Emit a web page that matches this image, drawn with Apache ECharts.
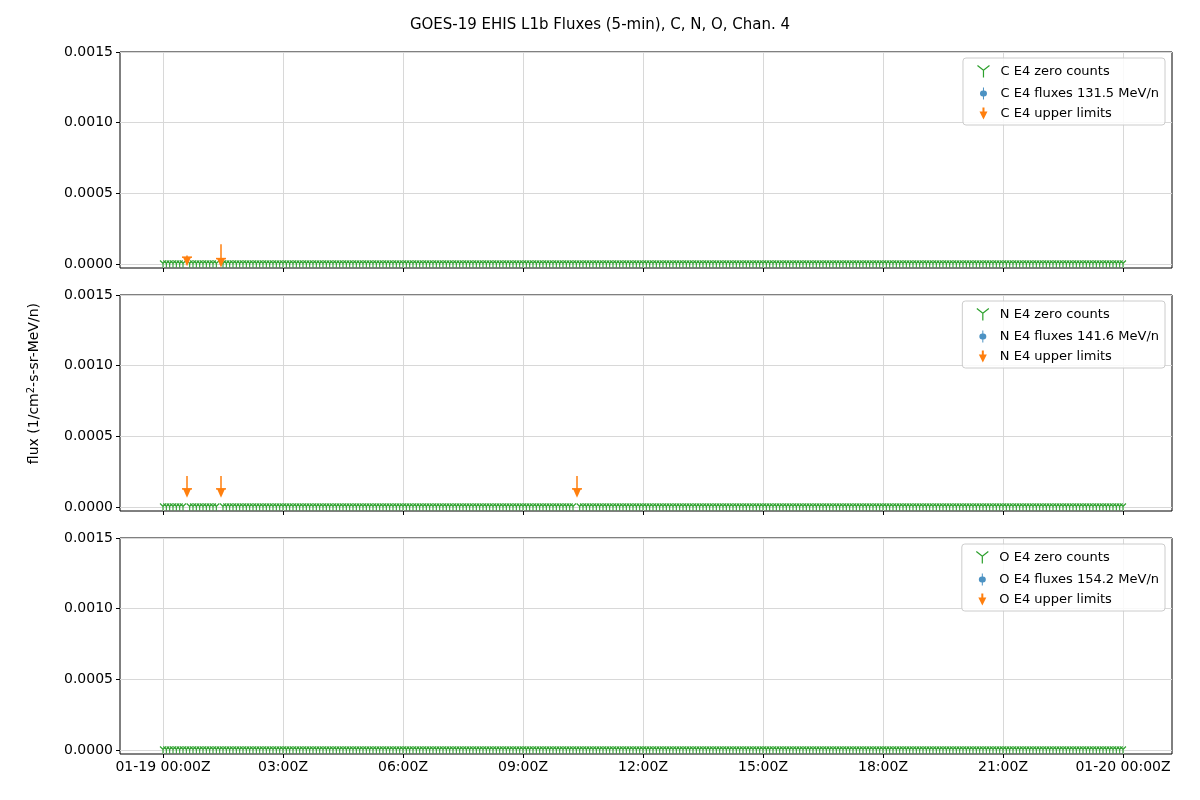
<!DOCTYPE html>
<html><head><meta charset="utf-8">
<script src="https://cdn.jsdelivr.net/npm/echarts@6/dist/echarts.min.js"></script>
<style>html,body{margin:0;background:#fff}#c{width:1200px;height:800px}</style>
</head><body><div id="c"></div>
<script>
// hours since 01-19 00:00Z
var ions = ['C', 'N', 'O'];
var energies = ['131.5', '141.6', '154.2'];
var upperTimes = [[0.6, 1.45], [0.6, 1.45, 10.35], []];
var upperVals = [[0.00002, 0.00001], [0.0001, 0.0001, 0.0001], []];
var upperTops = [[0.00006, 0.00014], [0.00022, 0.00022, 0.00022], []];
var tickHours = [0, 3, 6, 9, 12, 15, 18, 21, 24];
var yTicks = [0, 0.0005, 0.001, 0.0015];
var stepMin = 5;

var chart = echarts.init(document.getElementById('c'));
var tops = [52, 295, 538];
var grids = [], xAxes = [], yAxes = [], series = [], legends = [];
var green = '#2ca02c', orange = '#ff7f0e', blue = '#1f77b4';
var triDown = 'path://M0,0L5,4L10,0M5,4L5,10';
var errIcon = 'path://M4,0L6,0L6,4L9,4L5,12L1,4L4,4Z';
var fluxIcon = 'path://M4.5,0L5.5,0L5.5,3A2,2 0 1 1 5.5,9L5.5,12L4.5,12L4.5,9A2,2 0 1 1 4.5,3Z';

function fmt(v) {
  if (v === 0) return '01-19 00:00Z';
  if (v === 24) return '01-20 00:00Z';
  var h = v < 10 ? '0' + v : '' + v;
  return h + ':00Z';
}

ions.forEach(function (ion, i) {
  grids.push({left: 120, right: 28, top: tops[i], height: 216, show: true, borderColor: '#000', borderWidth: 1, backgroundColor: 'transparent'});
  xAxes.push({type: 'value', gridIndex: i, min: -1.075, max: 25.225, position: 'bottom',
    axisLine: {show: false, onZero: false},
    axisTick: {show: true, length: 4, inside: false, lineStyle: {color: '#000'}, customValues: tickHours},
    axisLabel: {show: i === 2, color: '#000', fontSize: 14, fontFamily: 'DejaVu Sans', formatter: fmt, customValues: tickHours, margin: 6},
    splitLine: {show: true, lineStyle: {color: '#d8d8d8'}}});
  yAxes.push({type: 'value', gridIndex: i, min: -0.0000283, max: 0.0015, position: 'left',
    axisLine: {show: false, onZero: false},
    axisTick: {show: true, length: 4, lineStyle: {color: '#000'}, customValues: yTicks},
    axisLabel: {color: '#000', fontSize: 14, fontFamily: 'DejaVu Sans', customValues: yTicks, margin: 7, formatter: function (v) { return v.toFixed(4); }},
    splitLine: {show: true, lineStyle: {color: '#d8d8d8'}}});

  var zero = [];
  for (var m = 0; m <= 24 * 60; m += stepMin) {
    var h = m / 60;
    var skip = upperTimes[i].some(function (t) { return Math.abs(t - h) < 0.04; });
    if (!skip) zero.push([h, 0]);
  }
  var names = [ion + ' E4 zero counts', ion + ' E4 fluxes ' + energies[i] + ' MeV/n', ion + ' E4 upper limits'];
  series.push({name: names[0], type: 'scatter', xAxisIndex: i, yAxisIndex: i, data: zero,
    symbol: triDown, symbolSize: [6, 7], itemStyle: {color: 'none', borderColor: green, borderWidth: 1.2, opacity: 1}, z: 3});
  series.push({name: names[1], type: 'scatter', xAxisIndex: i, yAxisIndex: i, data: [], itemStyle: {color: blue}});
  var up = upperTimes[i].map(function (t, k) { return [t, upperVals[i][k], upperTops[i][k]]; });
  series.push({name: names[2], type: 'custom', xAxisIndex: i, yAxisIndex: i, data: up, z: 4,
    itemStyle: {color: orange},
    renderItem: function (params, api) {
      var p = api.coord([api.value(0), api.value(1)]);
      var q = api.coord([api.value(0), api.value(2)]);
      return {type: 'group', children: [
        {type: 'line', shape: {x1: p[0], y1: p[1], x2: q[0], y2: q[1]}, style: {stroke: orange, lineWidth: 1.5}},
        {type: 'polygon', shape: {points: [[p[0] - 4, p[1] - 4], [p[0] + 4, p[1] - 4], [p[0], p[1] + 5]]}, style: {fill: orange}},
        {type: 'line', shape: {x1: p[0] - 5, y1: p[1] - 4, x2: p[0] + 5, y2: p[1] - 4}, style: {stroke: orange, lineWidth: 1.5}}
      ]};
    }});
  legends.push({right: 35, top: tops[i] + 6, orient: 'vertical', itemGap: 7, itemWidth: 12, itemHeight: 12,
    padding: [5, 6, 5, 12], borderColor: '#ccc', borderWidth: 1, borderRadius: 3, backgroundColor: 'rgba(255,255,255,0.85)',
    textStyle: {fontSize: 13, color: '#000', fontFamily: 'DejaVu Sans', padding: [0, 0, 0, 6]},
    data: [
      {name: names[0], icon: triDown, itemStyle: {color: 'none', borderColor: green, borderWidth: 1.2}},
      {name: names[1], icon: fluxIcon, itemStyle: {color: blue}},
      {name: names[2], icon: errIcon, itemStyle: {color: orange}}
    ]});
});

chart.setOption({
  animation: false,
  title: {text: 'GOES-19 EHIS L1b Fluxes (5-min), C, N, O, Chan. 4', left: 'center', top: 13,
    textStyle: {fontSize: 15, fontWeight: 'normal', color: '#000', fontFamily: 'DejaVu Sans'}},
  legend: legends,
  grid: grids, xAxis: xAxes, yAxis: yAxes, series: series,
  graphic: [{type: 'text', left: 26, top: 303, rotation: Math.PI / 2,
    style: {rich: {n: {fontSize: 14, fontFamily: 'DejaVu Sans', fill: '#000'}, s: {fontSize: 10, fontFamily: 'DejaVu Sans', fill: '#000', verticalAlign: 'top', padding: [0, 0, 6, 0]}},
      text: '{n|flux (1/cm}{s|2}{n|-s-sr-MeV/n)}'}}]
});
</script></body></html>
